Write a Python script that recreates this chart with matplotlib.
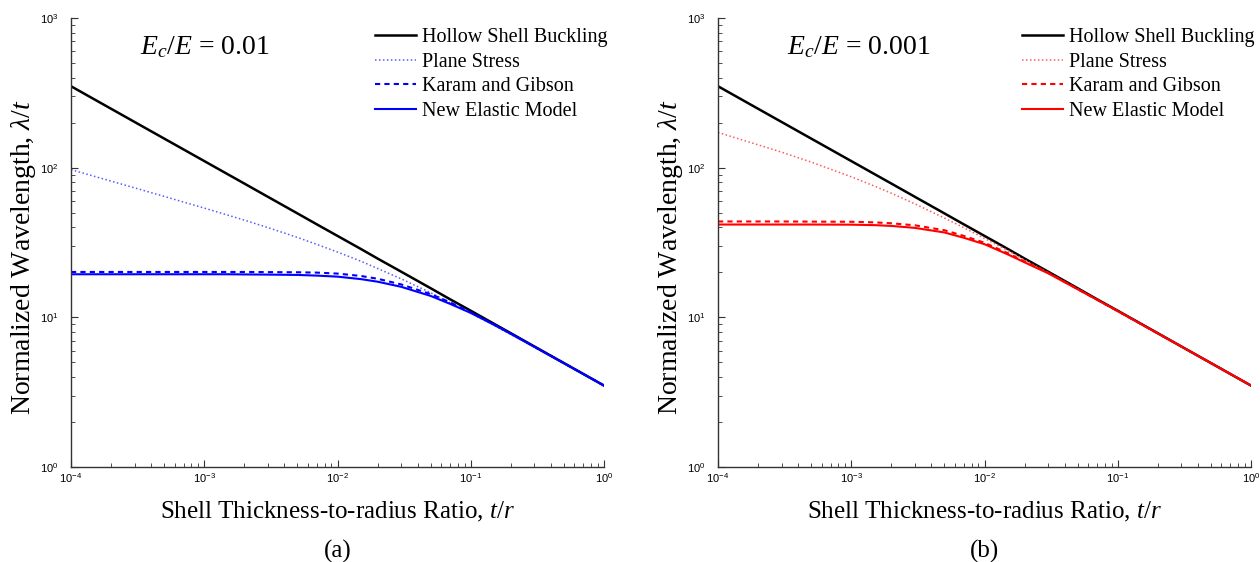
import numpy as np
import matplotlib
matplotlib.use('Agg')
import matplotlib.pyplot as plt

plt.rcParams['font.family'] = 'Liberation Serif'
plt.rcParams['mathtext.fontset'] = 'custom'
plt.rcParams['mathtext.rm'] = 'Liberation Serif'
plt.rcParams['mathtext.it'] = 'Liberation Serif:italic'

# shell thickness-to-radius ratio sample points
t_r = [1e-4, 3e-4, 5e-4, 1e-3, 1.5e-3, 2e-3, 3e-3, 5e-3, 7e-3, 1e-2, 1.5e-2,
       2e-2, 3e-2, 5e-2, 7e-2, 1e-1, 1.5e-1, 2e-1, 3e-1, 5e-1, 1.0]

# normalized wavelength
hollow = [350, 202, 156.5, 110.7, 90.4, 78.3, 63.9, 49.5, 41.8, 35.0, 28.6,
          24.7, 20.2, 15.65, 13.2, 11.07, 9.04, 7.83, 6.39, 4.95, 3.5]

# (a) Ec/E = 0.01
plane_a = [97, 73.3, 64.3, 53.7, 48.2, 44.6, 39.8, 34.2, 30.7, 27.3, 23.7,
           21.2, 18.1, 14.6, 12.5, 10.7, 8.82, 7.68, 6.31, 4.92, 3.49]
karam_a = [20.1, 20.1, 20.1, 20.1, 20.1, 20.1, 20.05, 20.0, 19.9, 19.6, 18.9,
           18.1, 16.6, 14.3, 12.6, 10.8, 8.95, 7.8, 6.38, 4.95, 3.5]
new_a = [19.4, 19.4, 19.4, 19.4, 19.4, 19.35, 19.3, 19.2, 19.0, 18.7, 18.0,
         17.3, 16.0, 13.9, 12.3, 10.7, 8.9, 7.75, 6.35, 4.93, 3.5]

# (b) Ec/E = 0.001
plane_b = [172, 127, 109, 86.9, 75.2, 67.5, 57.3, 46.1, 39.7, 33.7, 27.9,
           24.2, 19.9, 15.5, 13.1, 11.03, 9.01, 7.81, 6.38, 4.95, 3.5]
karam_b = [43.7, 43.7, 43.6, 43.5, 43.1, 42.5, 41.2, 38.2, 35.0, 31.5, 26.8,
           23.6, 19.9, 15.45, 13.1, 11.0, 9.0, 7.8, 6.38, 4.95, 3.5]
new_b = [41.7, 41.7, 41.7, 41.6, 41.3, 40.8, 39.6, 36.9, 34.0, 30.8, 26.3,
         23.3, 19.7, 15.4, 13.1, 11.0, 9.0, 7.8, 6.38, 4.95, 3.5]

labels = ['Hollow Shell Buckling', 'Plane Stress', 'Karam and Gibson', 'New Elastic Model']

fig = plt.figure(figsize=(12.6, 5.62), dpi=100)
ax1 = fig.add_axes([71 / 1260, 95 / 562, 533 / 1260, 449 / 562])
ax2 = fig.add_axes([718 / 1260, 95 / 562, 533 / 1260, 449 / 562])


def panel(ax, plane, karam, new, color, dot_color, ratio, tag):
    ax.plot(t_r, hollow, color='black', lw=1.8, label=labels[0])
    ax.plot(t_r, plane, color=dot_color, lw=1.1, ls=(0, (1, 1.6)), label=labels[1])
    ax.plot(t_r, karam, color=color, lw=1.5, ls=(0, (2.5, 2)), label=labels[2])
    ax.plot(t_r, new, color=color, lw=1.5, label=labels[3])

    ax.set_xscale('log')
    ax.set_yscale('log')
    ax.set_xlim(1e-4, 1)
    ax.set_ylim(1, 1000)
    for s in ['top', 'right']:
        ax.spines[s].set_visible(False)
    for s in ['left', 'bottom']:
        ax.spines[s].set_color('#333333')
        ax.spines[s].set_linewidth(1.0)

    ax.tick_params(which='both', direction='in', labelsize=8,
                   labelfontfamily='Liberation Sans', color='#333333')
    ax.tick_params(which='major', length=5)
    ax.tick_params(which='minor', length=3)
    ax.tick_params(axis='y', pad=9)
    ax.tick_params(axis='x', pad=3)

    ax.set_xlabel(r'Shell Thickness-to-radius Ratio, $t/r$', fontsize=18)
    ax.set_ylabel(r'Normalized Wavelength, $\lambda/t$', fontsize=20)
    ax.xaxis.set_label_coords(0.5, -0.073)
    ax.yaxis.set_label_coords(-0.061, 0.467)

    ax.text(0.13, 0.935, r'$E_c/E$ = ' + ratio, transform=ax.transAxes,
            fontsize=20, va='center', ha='left')

    ax.legend(loc='upper left', bbox_to_anchor=(0.571, 0.977), frameon=False,
              fontsize=14.5, borderpad=0, borderaxespad=0, handlelength=2.0,
              handletextpad=0.3, labelspacing=0.27)

    ax.text(0.5, -0.187, tag, transform=ax.transAxes, fontsize=18,
            ha='center', va='center')


panel(ax1, plane_a, karam_a, new_a, '#0000ff', '#5a5aff', '0.01', '(a)')
panel(ax2, plane_b, karam_b, new_b, '#ff0000', '#ff5a5a', '0.001', '(b)')

fig.savefig('out.png', dpi=100)
